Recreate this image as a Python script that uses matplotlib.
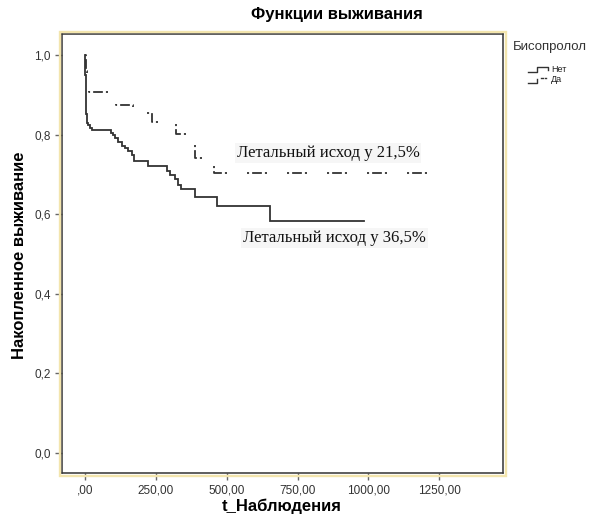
import matplotlib
matplotlib.use("Agg")
import matplotlib.pyplot as plt
from matplotlib.lines import Line2D
from matplotlib.patches import Rectangle

plt.rcParams['font.family'] = ['Liberation Sans', 'DejaVu Sans']
plt.rcParams['lines.scale_dashes'] = False

# Kaplan-Meier steps, group "Нет" (no bisoprolol)
t_net = [0, 1, 2, 3, 4, 5, 6, 7, 13, 19, 27, 93, 99, 107, 118, 130, 142, 154,
         166, 175, 224, 290, 302, 318, 330, 339, 389, 465, 653]
s_net = [1.0, 0.975, 0.951, 0.927, 0.902, 0.878, 0.853, 0.829, 0.824, 0.818,
         0.813, 0.805, 0.798, 0.792, 0.781, 0.772, 0.767, 0.760, 0.749, 0.735,
         0.722, 0.710, 0.699, 0.688, 0.674, 0.663, 0.643, 0.622, 0.583]
end_net = 985

# group "Да" (bisoprolol)
t_da = [0, 4, 9, 15, 109, 171, 236, 322, 389, 457]
s_da = [1.0, 0.96, 0.93, 0.908, 0.874, 0.855, 0.833, 0.803, 0.741, 0.703]
end_da = 1252

xticks = [0, 250, 500, 750, 1000, 1250]
xticklabels = [',00', '250,00', '500,00', '750,00', '1000,00', '1250,00']
yticks = [0.0, 0.2, 0.4, 0.6, 0.8, 1.0]
yticklabels = ['0,0', '0,2', '0,4', '0,6', '0,8', '1,0']

note_da = 'Летальный исход у 21,5%'
note_net = 'Летальный исход у 36,5%'

W, H = 591, 522
fig = plt.figure(figsize=(W / 100, H / 100), dpi=100)
fig.patch.set_facecolor('white')

# axes box in pixels: left, right, top, bottom
L, R, T, B = 62, 503, 34, 473
ax = fig.add_axes([L / W, 1 - B / H, (R - L) / W, (B - T) / H])

line_col = '#333333'
dashdot = (0, (1.5, 2.2, 7, 2.2, 1.5, 14.4))


def km_path(t, s, t_end):
    xs, ys = [t[0]], [s[0]]
    for i in range(1, len(t)):
        xs += [t[i], t[i]]
        ys += [s[i - 1], s[i]]
    xs.append(t_end)
    ys.append(s[-1])
    return xs, ys


x, y = km_path(t_net, s_net, end_net)
ax.plot(x, y, color=line_col, lw=1.3, solid_joinstyle='miter')
x, y = km_path(t_da, s_da, end_da)
ax.plot(x, y, color=line_col, lw=1.3, linestyle=dashdot)

ax.text(535, 0.753, note_da, family='Liberation Serif', fontsize=12,
        ha='left', va='center', color='#111111',
        bbox=dict(facecolor='#f6f6f6', edgecolor='none', pad=1.5))
ax.text(558, 0.540, note_net, family='Liberation Serif', fontsize=12,
        ha='left', va='center', color='#111111',
        bbox=dict(facecolor='#f6f6f6', edgecolor='none', pad=1.5))

ax.set_xlim(-80, 1474)
ax.set_ylim(-0.05, 1.053)
ax.set_xticks(xticks)
ax.set_xticklabels(xticklabels)
ax.set_yticks(yticks)
ax.set_yticklabels(yticklabels)
ax.tick_params(direction='out', length=5, width=1, color='#666666',
               labelsize=8.5, labelcolor='#333333', pad=3)
for sp in ax.spines.values():
    sp.set_color('#333333')
    sp.set_linewidth(1.1)

# pale yellow frame around the plot area
fig.add_artist(Rectangle(((L - 2.5) / W, 1 - (B + 2.5) / H), (R - L + 5) / W,
                         (B - T + 5) / H, transform=fig.transFigure,
                         fill=False, edgecolor='#f3e5ad', lw=1.7))

fig.text(337 / W, 1 - 14 / H, 'Функции выживания', fontsize=12,
         fontweight='bold', ha='center', va='center')
fig.text(282 / W, 1 - 506 / H, 't_Наблюдения', fontsize=12,
         fontweight='bold', ha='center', va='center')
fig.text(20 / W, 1 - 255 / H, 'Накопленное выживание', fontsize=12,
         fontweight='bold', ha='center', va='center', rotation=90)

# legend
fig.text(513 / W, 1 - 47 / H, 'Бисопролол', fontsize=9.5, color='#333333',
         ha='left', va='center')
fig.text(551 / W, 1 - 69 / H, 'Нет', fontsize=6.5, color='#222222',
         ha='left', va='center')
fig.text(551 / W, 1 - 80 / H, 'Да', fontsize=6.5, color='#222222',
         ha='left', va='center')


def fig_line(xs, ys, **kw):
    fig.add_artist(Line2D([v / W for v in xs], [1 - v / H for v in ys],
                          transform=fig.transFigure, color=line_col, lw=1, **kw))


fig_line([528, 537, 537, 548, 548], [72, 72, 67, 67, 70])
fig_line([528, 537, 537], [82.5, 82.5, 78.5])
fig_line([541, 542.5], [78, 78])
fig_line([544.5, 546], [78, 78])

fig.savefig('out.png', dpi=100)
